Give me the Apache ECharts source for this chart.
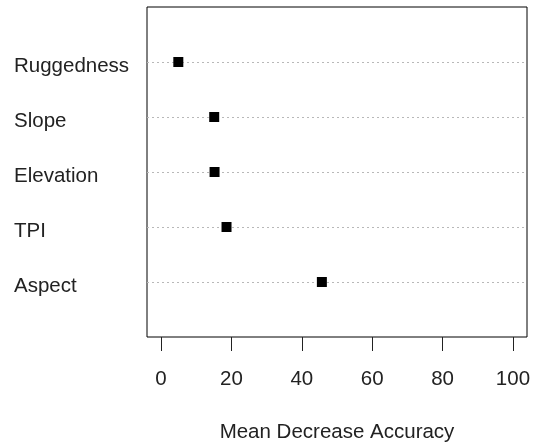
<!DOCTYPE html>
<html>
<head>
<meta charset="utf-8">
<script src="https://cdn.jsdelivr.net/npm/echarts@6/dist/echarts.min.js"></script>
<style>html,body{margin:0;padding:0;background:#fff;}#c{width:540px;height:442px;}</style>
</head>
<body>
<div id="c"></div>
<script>
// Variables listed bottom-to-top (as drawn)
const categories = ['Aspect', 'TPI', 'Elevation', 'Slope', 'Ruggedness'];
const meanDecreaseAccuracy = [45.7, 18.6, 15.2, 15.1, 4.9];
const xTicks = [0, 20, 40, 60, 80, 100];
const xTitle = 'Mean Decrease Accuracy';

const yCats = [''].concat(categories, ['']);
const points = meanDecreaseAccuracy.map((v, i) => [v, categories[i]]);
const FONT = 'Liberation Sans, Arial, sans-serif';

const chart = echarts.init(document.getElementById('c'));
chart.setOption({
  animation: false,
  grid: { left: 147, right: 13, top: 7, bottom: 105, show: true, borderColor: '#000', borderWidth: 1, backgroundColor: 'transparent', outerBoundsMode: 'none', containLabel: false },
  xAxis: {
    type: 'value', min: -4, max: 104,
    axisLine: { show: false },
    axisTick: { show: true, customValues: xTicks, length: 14, lineStyle: { color: '#222', width: 1 } },
    axisLabel: { customValues: xTicks, fontSize: 20.5, color: '#222', fontFamily: FONT, margin: 32 },
    splitLine: { show: false },
    name: xTitle, nameLocation: 'middle', nameGap: 85,
    nameTextStyle: { fontSize: 20.5, color: '#222', fontFamily: FONT }
  },
  yAxis: {
    type: 'category', data: yCats, boundaryGap: false,
    axisLine: { show: false }, axisTick: { show: false },
    axisLabel: {
      align: 'left', margin: 133, interval: 0,
      formatter: (v) => v ? '{a|' + v + '}' : '',
      rich: { a: { fontSize: 20.5, color: '#222', fontFamily: FONT, padding: [8, 0, 0, 0] } }
    },
    splitLine: { show: true, interval: (idx) => idx > 0 && idx < yCats.length - 1, lineStyle: { color: '#b8b8b8', type: [2, 3], width: 1 } }
  },
  series: [{
    type: 'scatter', data: points, symbol: 'rect', symbolSize: 10,
    itemStyle: { color: '#000', opacity: 1 }
  }]
});
</script>
</body>
</html>
